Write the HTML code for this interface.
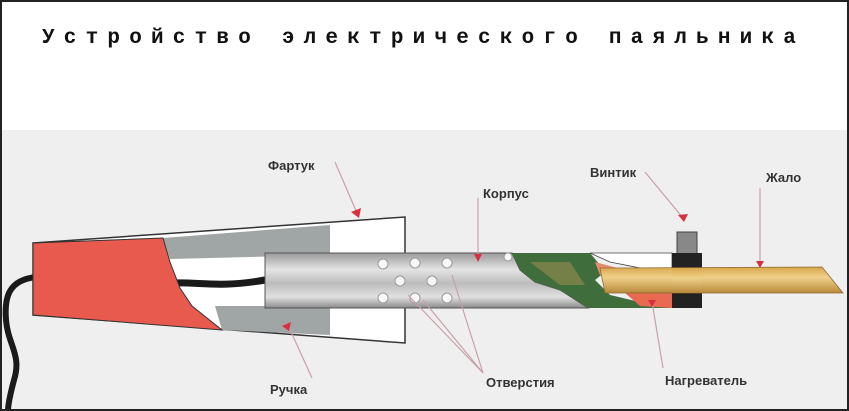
<!DOCTYPE html>
<html><head><meta charset="utf-8"><style>
html,body{margin:0;padding:0;background:#fff}
svg{display:block}
.t{font-family:"Liberation Mono",monospace;font-weight:bold;font-size:21px;fill:#111;letter-spacing:9.2px}
.l{font-family:"Liberation Sans",sans-serif;font-weight:bold;font-size:13px;fill:#333}
.a{stroke:#c9a0a8;stroke-width:1.2;fill:none}
</style></head><body>
<svg width="849" height="411" viewBox="0 0 849 411" xmlns="http://www.w3.org/2000/svg">
<defs>
<linearGradient id="m" x1="0" y1="0" x2="0" y2="1">
<stop offset="0" stop-color="#9a9a9a"/><stop offset="0.3" stop-color="#e4e4e4"/><stop offset="0.55" stop-color="#bdbdbd"/><stop offset="0.8" stop-color="#e0e0e0"/><stop offset="1" stop-color="#8a8a8a"/>
</linearGradient>
<linearGradient id="g" x1="0" y1="0" x2="0" y2="1">
<stop offset="0" stop-color="#d9a64a"/><stop offset="0.4" stop-color="#f0d08a"/><stop offset="1" stop-color="#b88a3a"/>
</linearGradient>
</defs>
<rect x="0" y="0" width="849" height="411" fill="#fff"/>
<rect x="2" y="130" width="845" height="279" fill="#efefef"/>
<text class="t" x="42" y="43">Устройство электрического паяльника</text>
<path d="M36,277 C10,280 4,295 6,320 C8,345 22,355 14,380 C10,395 8,405 8,411" stroke="#1a1a1a" stroke-width="6" fill="none"/>
<polygon points="33,243 405,217 405,343 33,315" fill="#fff" stroke="#333" stroke-width="1.5"/>
<polygon points="163,238 330,225 330,255 170,259" fill="#a0a6a6"/>
<polygon points="215,306 330,306 330,335 222,330" fill="#a0a6a6"/>
<path d="M175,283 C200,282 220,288 265,280" stroke="#1a1a1a" stroke-width="7" fill="none"/>
<polygon points="33,243 163,238 170,262 180,288 192,306 222,330 33,315" fill="#e85a4e" stroke="#333" stroke-width="1"/>
<polygon points="265,253 512,253 520,270 535,282 560,290 588,308 265,308" fill="url(#m)" stroke="#555" stroke-width="1"/>
<polygon points="512,253 590,253 600,265 610,268 595,280 610,295 640,302 672,308 588,308 560,290 535,282 520,270" fill="#3f6e3c"/>
<polygon points="530,262 570,262 585,285 560,285" fill="#9a8a50" opacity="0.6"/>
<polygon points="590,253 672,253 672,268 640,268 610,262" fill="#fff" stroke="#444" stroke-width="0.8"/>
<polygon points="595,262 625,270 600,275" fill="#e88a70"/>
<polygon points="625,293 672,293 672,308 640,306" fill="#e86a50"/>
<rect x="677" y="232" width="20" height="22" fill="#888" stroke="#444"/>
<rect x="672" y="253" width="30" height="55" fill="#222"/>
<polygon points="600,268 822,267 843,293 605,293" fill="url(#g)" stroke="#8a6a30" stroke-width="0.8"/>
<rect x="672" y="268" width="30" height="25" fill="url(#g)" opacity="0.9"/>
<g fill="#f7f7f7" stroke="#999" stroke-width="1">
<circle cx="383" cy="264" r="5"/><circle cx="415" cy="263" r="5"/><circle cx="447" cy="263" r="5"/>
<circle cx="400" cy="281" r="5"/><circle cx="432" cy="281" r="5"/>
<circle cx="383" cy="298" r="5"/><circle cx="415" cy="298" r="5"/><circle cx="447" cy="298" r="5"/>
<circle cx="508" cy="257" r="4"/>
</g>
<text class="l" x="268" y="170">Фартук</text>
<text class="l" x="483" y="198">Корпус</text>
<text class="l" x="590" y="177">Винтик</text>
<text class="l" x="766" y="182">Жало</text>
<text class="l" x="270" y="394">Ручка</text>
<text class="l" x="486" y="387">Отверстия</text>
<text class="l" x="665" y="385">Нагреватель</text>
<path class="a" d="M335,162 L357,213"/>
<path class="a" d="M312,378 L287,323"/>
<path class="a" d="M478,198 L478,257"/>
<path class="a" d="M645,172 L683,218"/>
<path class="a" d="M760,188 L760,264"/>
<path class="a" d="M483,373 L408,295 M483,373 L423,300 M483,373 L452,275"/>
<path class="a" d="M663,368 L652,302"/>
<g fill="#d83040">
<polygon points="351,212 361,208 359,218"/>
<polygon points="282,326 291,322 289,331"/>
<polygon points="474,254 482,254 478,262"/>
<polygon points="678,215 688,214 684,222"/>
<polygon points="756,261 764,261 760,268"/>
<polygon points="648,300 656,300 652,307"/>
</g>
<rect x="1" y="1" width="847" height="409" fill="none" stroke="#222" stroke-width="2"/>
</svg>
</body></html>
